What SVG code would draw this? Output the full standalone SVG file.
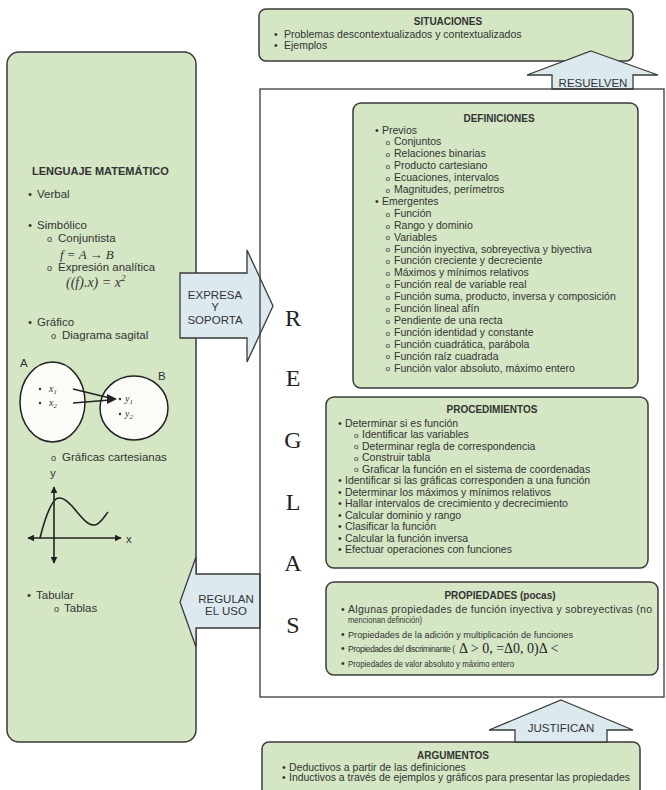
<svg xmlns="http://www.w3.org/2000/svg" width="666" height="790" viewBox="0 0 666 790">
<style>
.box{fill:#d5e6c4;stroke:#3a3a3a;stroke-width:1.5}
.arr{fill:#dce9ef;stroke:#3a3a3a;stroke-width:1.3;stroke-linejoin:miter}
text{font-family:"Liberation Sans",Arial,sans-serif;fill:#333}
.t{font-size:10.5px}
.s{font-size:9.5px}
.o{font-size:8px}
.h{font-size:10px;font-weight:bold;text-anchor:middle}
.l{font-size:11.5px}
.lo{font-size:9px}
.lh{font-size:11px;font-weight:bold}
.al{font-size:11.5px;text-anchor:middle}
.m{font-family:"Liberation Serif","Times New Roman",serif;font-style:italic}
.rg{font-family:"Liberation Serif","Times New Roman",serif;font-size:24px;text-anchor:middle;fill:#222}
.ax{stroke:#222;stroke-width:1.6;fill:none}
</style>
<defs>
<marker id="ah" viewBox="0 0 10 10" refX="9" refY="5" markerWidth="7" markerHeight="7" orient="auto-start-reverse" markerUnits="userSpaceOnUse"><path d="M0,0 L10,5 L0,10 Z" fill="#222"/></marker>
</defs>
<rect width="666" height="790" fill="#ffffff"/>

<g id="situaciones">
<rect class="box" x="259" y="9" width="374" height="52" rx="7"/>
<text class="h" x="448" y="25">SITUACIONES</text>
<text class="t" x="274" y="37.5">•</text><text class="t" x="284" y="37.5">Problemas descontextualizados y contextualizados</text>
<text class="t" x="274" y="49">•</text><text class="t" x="284" y="49">Ejemplos</text>
</g>

<g id="lenguaje">
<rect class="box" x="7" y="52" width="189" height="690" rx="12"/>
<text class="lh" x="32" y="175">LENGUAJE MATEMÁTICO</text>
<text class="l" x="28" y="198">•</text><text class="l" x="37" y="198">Verbal</text>
<text class="l" x="28" y="229">•</text><text class="l" x="37" y="229">Simbólico</text>
<text class="lo" x="47" y="241.5">o</text><text class="l" x="58" y="242">Conjuntista</text>
<text class="m" x="60" y="259" font-size="13">f = A → B</text>
<text class="lo" x="47" y="270.5">o</text><text class="l" x="58" y="271">Expresión analítica</text>
<text class="m" x="66" y="287" font-size="14">((f).x) = x<tspan font-size="9" dy="-6">2</tspan></text>
<text class="l" x="28" y="326">•</text><text class="l" x="37" y="326">Gráfico</text>
<text class="lo" x="51" y="338.5">o</text><text class="l" x="62" y="339">Diagrama sagital</text>
<text class="l" x="20" y="367">A</text>
<text class="l" x="158" y="380">B</text>
<ellipse cx="52.5" cy="402" rx="32.5" ry="40" fill="#fbfbf7" stroke="#222" stroke-width="1.5"/>
<ellipse cx="134" cy="408" rx="34" ry="32" fill="#fbfbf7" stroke="#222" stroke-width="1.5"/>
<circle cx="40" cy="389" r="1.2" fill="#333"/>
<circle cx="40" cy="403" r="1.2" fill="#333"/>
<circle cx="120" cy="399" r="1.2" fill="#333"/>
<circle cx="120" cy="414" r="1.2" fill="#333"/>
<text class="m" x="49" y="392" font-size="10">x<tspan font-size="7" dy="2">1</tspan></text>
<text class="m" x="49" y="406" font-size="10">x<tspan font-size="7" dy="2">2</tspan></text>
<text class="m" x="125" y="402" font-size="10">y<tspan font-size="7" dy="2">1</tspan></text>
<text class="m" x="125" y="417" font-size="10">y<tspan font-size="7" dy="2">2</tspan></text>
<line x1="73" y1="389" x2="110" y2="398" stroke="#222" stroke-width="1.5"/>
<line x1="73" y1="403" x2="110" y2="400" stroke="#222" stroke-width="1.5"/>
<polygon points="117,399 107,394 107,404" fill="#222"/>
<text class="lo" x="51" y="460.5">o</text><text class="l" x="62" y="461">Gráficas cartesianas</text>
<text class="l" x="50" y="477">y</text>
<text class="l" x="126" y="543">x</text>
<line class="ax" x1="54" y1="563" x2="54" y2="487" marker-end="url(#ah)" marker-start="url(#ah)"/>
<line class="ax" x1="28" y1="538" x2="121" y2="538" marker-end="url(#ah)" marker-start="url(#ah)"/>
<path class="ax" d="M40,538 C44,522 49,505 56,499 C61,496 66,500 72,506 C80,515 87,526 95,525 C100,524 104,517 108,512"/>
<text class="l" x="27" y="599">•</text><text class="l" x="36" y="599">Tabular</text>
<text class="lo" x="54" y="611.5">o</text><text class="l" x="64" y="612">Tablas</text>
</g>

<g id="argumentos">
<rect class="box" x="262" y="742" width="378" height="62" rx="7"/>
<text class="h" x="453" y="759">ARGUMENTOS</text>
<text class="t" x="282" y="770.5">•</text><text class="t" x="289" y="770.5">Deductivos a partir de las definiciones</text>
<text class="t" x="282" y="781">•</text><text class="t" x="289" y="781" textLength="341" lengthAdjust="spacingAndGlyphs">Inductivos a través de ejemplos y gráficos para presentar las propiedades</text>
</g>

<g id="definiciones">
<rect class="box" x="353" y="103" width="285" height="285" rx="8"/>
<text class="h" x="499" y="121.5">DEFINICIONES</text>
<g class="t">
<text x="375" y="133.5">•</text><text x="382" y="133.5">Previos</text>
<text class="o" x="385.5" y="145">o</text><text x="394" y="145.4">Conjuntos</text>
<text class="o" x="385.5" y="157">o</text><text x="394" y="157.3">Relaciones binarias</text>
<text class="o" x="385.5" y="169">o</text><text x="394" y="169.2">Producto cartesiano</text>
<text class="o" x="385.5" y="181">o</text><text x="394" y="181.1">Ecuaciones, intervalos</text>
<text class="o" x="385.5" y="193">o</text><text x="394" y="193">Magnitudes, perímetros</text>
<text x="375" y="204.9">•</text><text x="382" y="204.9">Emergentes</text>
<text class="o" x="385.5" y="216.6">o</text><text x="394" y="216.8">Función</text>
<text class="o" x="385.5" y="228.5">o</text><text x="394" y="228.7">Rango y dominio</text>
<text class="o" x="385.5" y="240.4">o</text><text x="394" y="240.6">Variables</text>
<text class="o" x="385.5" y="252.3">o</text><text x="394" y="252.5">Función inyectiva, sobreyectiva y biyectiva</text>
<text class="o" x="385.5" y="264.2">o</text><text x="394" y="264.4">Función creciente y decreciente</text>
<text class="o" x="385.5" y="276.1">o</text><text x="394" y="276.3">Máximos y mínimos relativos</text>
<text class="o" x="385.5" y="288">o</text><text x="394" y="288.2">Función real de variable real</text>
<text class="o" x="385.5" y="299.9">o</text><text x="394" y="300.1">Función suma, producto, inversa y composición</text>
<text class="o" x="385.5" y="311.8">o</text><text x="394" y="312">Función lineal afín</text>
<text class="o" x="385.5" y="323.7">o</text><text x="394" y="323.9">Pendiente de una recta</text>
<text class="o" x="385.5" y="335.6">o</text><text x="394" y="335.8">Función identidad y constante</text>
<text class="o" x="385.5" y="347.5">o</text><text x="394" y="347.7">Función cuadrática, parábola</text>
<text class="o" x="385.5" y="359.4">o</text><text x="394" y="359.6">Función raíz cuadrada</text>
<text class="o" x="385.5" y="371.3">o</text><text x="394" y="371.5">Función valor absoluto, máximo entero</text>
</g>
</g>

<g id="procedimientos">
<rect class="box" x="326" y="397" width="322" height="171" rx="8"/>
<text class="h" x="492" y="412.5">PROCEDIMIENTOS</text>
<g class="t">
<text x="338" y="426.5">•</text><text x="345" y="426.5">Determinar si es función</text>
<text class="o" x="354" y="437.8">o</text><text x="362" y="438">Identificar las variables</text>
<text class="o" x="354" y="449.3">o</text><text x="362" y="449.5">Determinar regla de correspondencia</text>
<text class="o" x="354" y="460.8">o</text><text x="362" y="461">Construir tabla</text>
<text class="o" x="354" y="472.3">o</text><text x="362" y="472.5">Graficar la función en el sistema de coordenadas</text>
<text x="338" y="484">•</text><text x="345" y="484">Identificar si las gráficas corresponden a una función</text>
<text x="338" y="495.5">•</text><text x="345" y="495.5">Determinar los máximos y mínimos relativos</text>
<text x="338" y="507">•</text><text x="345" y="507">Hallar intervalos de crecimiento y decrecimiento</text>
<text x="338" y="518.5">•</text><text x="345" y="518.5">Calcular dominio y rango</text>
<text x="338" y="530">•</text><text x="345" y="530">Clasificar la función</text>
<text x="338" y="541.5">•</text><text x="345" y="541.5">Calcular la función inversa</text>
<text x="338" y="553">•</text><text x="345" y="553">Efectuar operaciones con funciones</text>
</g>
</g>

<g id="propiedades">
<rect class="box" x="326" y="582" width="332" height="93" rx="8"/>
<text class="h" x="500" y="598.5">PROPIEDADES (pocas)</text>
<text class="t" x="341" y="612.5">•</text><text class="t" x="348" y="612.5" textLength="304" lengthAdjust="spacing">Algunas propiedades de función inyectiva y sobreyectivas (no</text>
<text class="s" x="348" y="622.5" textLength="74" lengthAdjust="spacingAndGlyphs">mencionan definición)</text>
<text class="t" x="341" y="637.5">•</text><text class="s" x="348" y="637.5" textLength="225" lengthAdjust="spacingAndGlyphs">Propiedades de la adición y multiplicación de funciones</text>
<text class="t" x="341" y="652">•</text><text x="348" y="652" font-size="8.5" letter-spacing="-0.4">Propiedades del discriminante (<tspan x="459" dy="1" font-family="Liberation Serif, serif" font-size="14" letter-spacing="0" fill="#222">Δ &gt; 0, =Δ0, 0)Δ &lt;</tspan></text>
<text class="t" x="341" y="667">•</text><text class="s" x="348" y="667" textLength="166" lengthAdjust="spacingAndGlyphs">Propiedades de valor absoluto y máximo entero</text>
</g>

<g id="connectors">
<path class="arr" d="M591,51 L658,75 L633,75 L633,89 L552,89 L552,75 L527,75 Z"/>
<text class="al" x="593" y="86.5">RESUELVEN</text>
<path class="arr" d="M561,700 L633,730 L607,730 L607,742 L515,742 L515,730 L489,730 Z"/>
<text class="al" x="561" y="732">JUSTIFICAN</text>
<path class="arr" d="M180,273 H247 V250 L273,306 L247,362 V338 H180 Z"/>
<text class="al" x="215" y="299" font-size="11">EXPRESA</text>
<text class="al" x="215" y="311" font-size="11">Y</text>
<text class="al" x="215" y="324" font-size="11">SOPORTA</text>
<path class="arr" d="M260,574 H196 V557 L180,602 L196,647 V628 H260 Z"/>
<text class="al" x="226" y="603" font-size="10.5">REGULAN</text>
<text class="al" x="226" y="615" font-size="10.5">EL USO</text>
</g>

<g id="reglas">
<rect x="260" y="89" width="404" height="608" fill="none" stroke="#3a3a3a" stroke-width="1.3"/>
<text class="rg" x="293" y="326">R</text>
<text class="rg" x="293" y="386">E</text>
<text class="rg" x="293" y="448">G</text>
<text class="rg" x="293" y="510">L</text>
<text class="rg" x="293" y="571">A</text>
<text class="rg" x="293" y="633">S</text>
</g>
</svg>
